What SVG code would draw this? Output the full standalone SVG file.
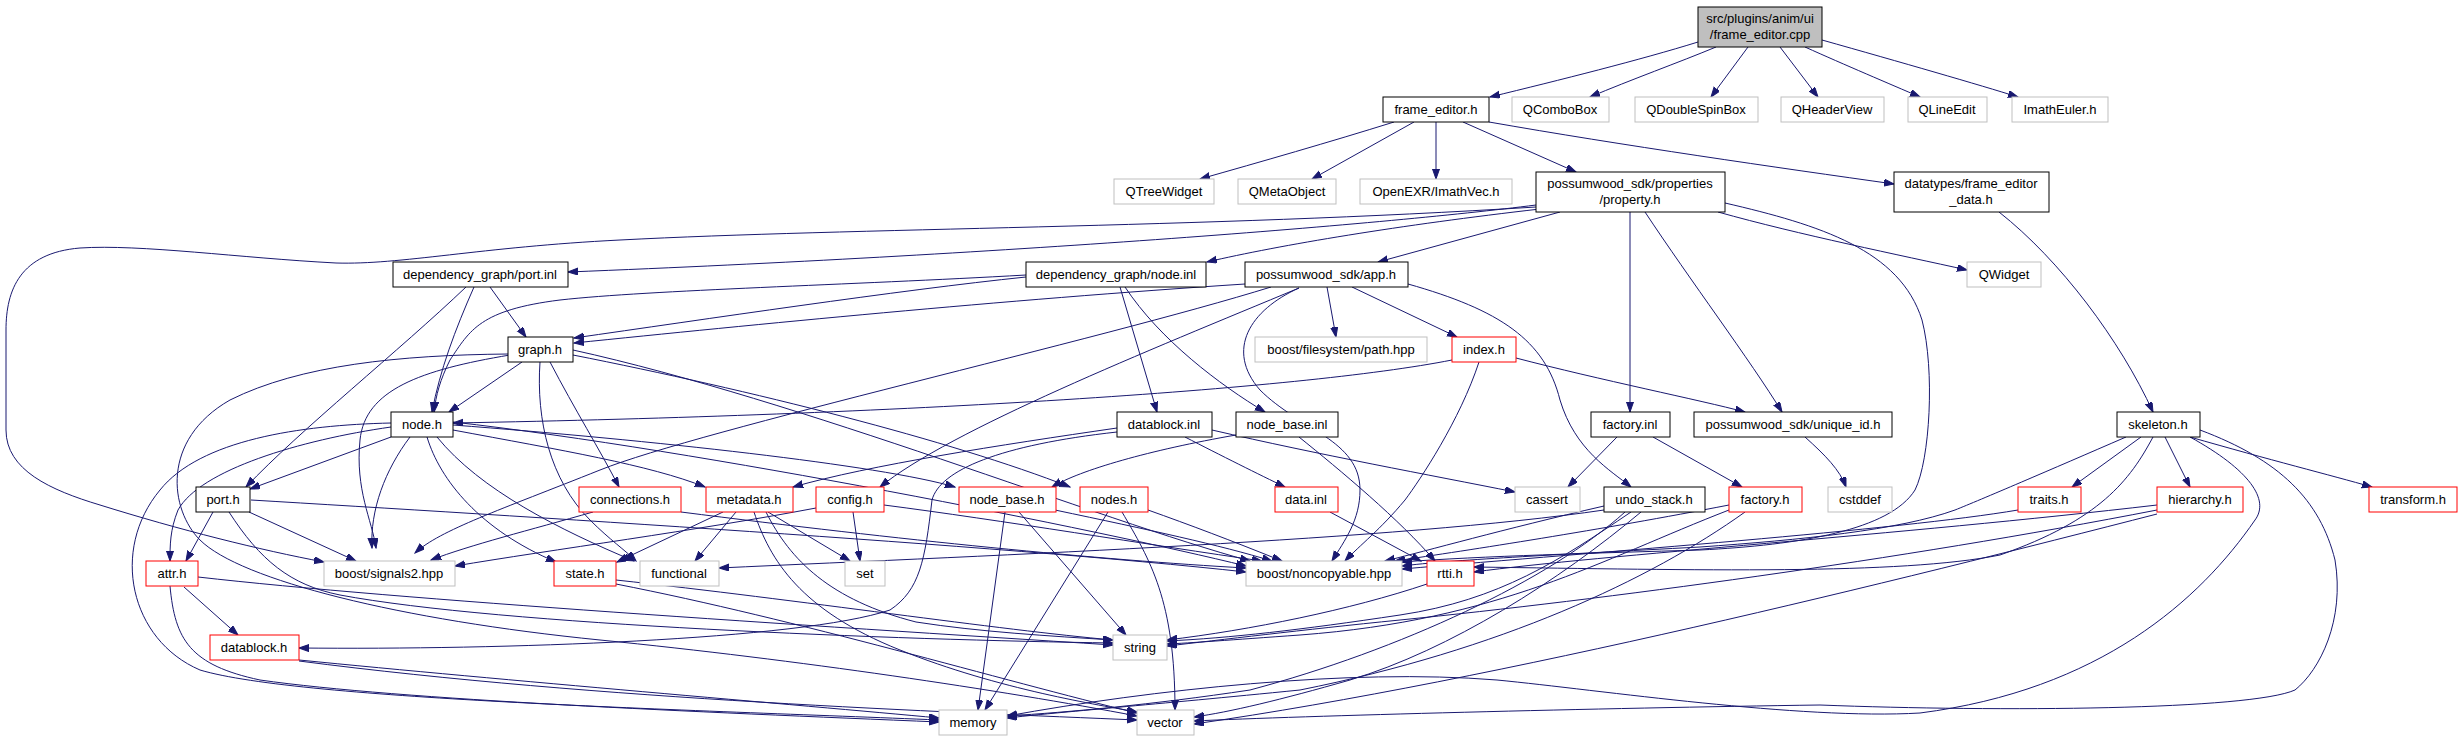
<svg xmlns="http://www.w3.org/2000/svg" width="2463" height="741" viewBox="0 0 2463 741">
<style>
rect{fill:#fff;stroke:#000;stroke-width:1}
.g rect{stroke:#bfbfbf}
.r rect{stroke:#ff0000}
.root rect{fill:#bfbfbf}
text{font-family:"Liberation Sans",Arial,Helvetica,sans-serif;font-size:13px;fill:#000;text-anchor:middle}
#edges path{fill:none;stroke:#191970;stroke-width:1;marker-end:url(#ah)}
</style>
<defs>
<marker id="ah" markerWidth="11" markerHeight="8" refX="10" refY="3.5" orient="auto" markerUnits="userSpaceOnUse">
<path d="M0,0 L10,3.5 L0,7 z" fill="#191970" stroke="#191970"/>
</marker>
</defs>
<rect x="0" y="0" width="2463" height="741" style="fill:#fff;stroke:none"/>
<g id="edges">
<path d="M1698,42 C1640,60 1560,80 1490,97"/>
<path d="M1716,47 C1680,62 1630,80 1590,97"/>
<path d="M1748,47 L1711,97"/>
<path d="M1780,47 L1818,97"/>
<path d="M1805,47 C1845,65 1890,84 1920,97"/>
<path d="M1822,40 C1900,62 1980,85 2018,97"/>
<path d="M1394,122 C1330,142 1260,162 1200,179"/>
<path d="M1414,122 L1312,179"/>
<path d="M1436,122 L1436,179"/>
<path d="M1463,122 L1576,172"/>
<path d="M1489,122 C1620,145 1780,168 1894,184"/>
<path d="M1999,212 C2060,260 2120,340 2153,412"/>
<path d="M1536,205 C1380,225 1000,255 568,272"/>
<path d="M1540,209 C1400,225 1280,245 1207,262"/>
<path d="M1560,212 L1378,262"/>
<path d="M1630,212 L1630,412"/>
<path d="M1645,212 C1690,280 1750,360 1782,412"/>
<path d="M1718,212 C1800,235 1900,255 1967,270"/>
<path d="M1725,203 C1820,225 1900,250 1922,320 C1935,370 1930,460 1915,490 C1890,530 1800,545 1700,550 C1600,553 1480,556 1402,562"/>
<path d="M1536,207 C1200,228 850,228 620,240 C480,247 400,265 336,263 C240,258 140,244 80,248 C20,253 6,290 6,330 L6,430 C6,470 50,490 100,505 C180,530 260,550 324,562"/>
<path d="M1026,277 C900,290 700,320 574,338"/>
<path d="M1026,275 C850,285 650,290 560,300 C480,310 470,330 450,360 C440,380 436,395 434,412"/>
<path d="M1120,287 L1157,412"/>
<path d="M1125,287 C1160,340 1220,385 1265,412"/>
<path d="M490,287 L526,337"/>
<path d="M474,287 C455,330 440,370 432,412"/>
<path d="M466,287 C400,350 300,430 246,487"/>
<path d="M1245,284 C1000,300 750,325 574,343"/>
<path d="M1271,287 C1100,340 700,430 600,470 C500,510 440,530 415,553"/>
<path d="M1327,287 L1336,337"/>
<path d="M1352,287 L1457,337"/>
<path d="M1408,284 C1500,310 1545,340 1560,400 C1575,450 1610,470 1631,487"/>
<path d="M1299,288 C1150,350 950,430 880,487"/>
<path d="M1299,288 C1250,310 1225,350 1260,390 C1300,430 1360,440 1360,490 C1360,520 1345,540 1332,561"/>
<path d="M522,362 L449,412"/>
<path d="M550,362 C575,410 600,450 619,487"/>
<path d="M510,355 C420,370 365,390 360,440 C355,490 372,520 376,548"/>
<path d="M573,350 C800,400 1100,520 1250,561"/>
<path d="M540,362 C536,420 550,480 590,520 C610,540 625,550 636,561"/>
<path d="M573,355 C750,390 950,440 1070,487"/>
<path d="M508,354 C400,355 300,365 230,400 C160,440 170,510 200,540 C240,580 400,620 600,640 C800,660 1000,690 1137,716"/>
<path d="M391,423 C300,425 200,440 160,490 C110,550 130,640 200,670 C300,700 700,710 939,720"/>
<path d="M391,427 C300,440 200,470 178,510 C170,530 170,545 170,561"/>
<path d="M391,437 L250,489"/>
<path d="M410,437 C385,470 370,510 372,548"/>
<path d="M427,437 C440,480 480,530 556,562"/>
<path d="M437,437 C480,490 560,530 634,561"/>
<path d="M453,430 C560,450 650,465 705,487"/>
<path d="M453,425 C650,440 880,465 955,487"/>
<path d="M453,422 C700,450 1100,530 1246,566"/>
<path d="M213,512 L186,561"/>
<path d="M249,512 L356,561"/>
<path d="M251,500 C500,515 1000,545 1246,572"/>
<path d="M229,512 C260,560 290,585 340,595 C500,625 900,640 1113,643"/>
<path d="M184,587 L238,635"/>
<path d="M198,577 C400,600 800,625 1113,645"/>
<path d="M170,586 C175,640 190,665 260,680 C400,700 700,712 939,722"/>
<path d="M299,660 C500,680 800,705 939,718"/>
<path d="M299,661 C600,700 950,712 1137,720"/>
<path d="M723,512 L617,562"/>
<path d="M736,512 L695,561"/>
<path d="M768,512 L850,561"/>
<path d="M766,512 C790,560 830,600 916,622 C980,632 1050,636 1113,640"/>
<path d="M754,512 C770,560 800,610 900,650 C1000,690 1100,705 1137,712"/>
<path d="M853,512 L860,561"/>
<path d="M816,508 C700,530 550,550 455,566"/>
<path d="M884,505 C1000,520 1150,545 1262,561"/>
<path d="M593,512 C530,530 470,545 431,560"/>
<path d="M681,512 C900,540 1100,560 1246,568"/>
<path d="M616,580 C800,600 1000,630 1113,640"/>
<path d="M616,584 C800,620 1000,680 1137,713"/>
<path d="M1005,512 L978,710"/>
<path d="M1019,512 L1126,635"/>
<path d="M1055,510 C1150,530 1220,545 1272,561"/>
<path d="M1108,512 L985,710"/>
<path d="M1122,512 C1150,560 1175,600 1175,710"/>
<path d="M1148,510 C1190,525 1230,540 1282,561"/>
<path d="M1236,435 C1150,450 1080,470 1052,487"/>
<path d="M1299,437 C1340,470 1400,520 1435,561"/>
<path d="M1117,428 C1000,445 870,465 793,487"/>
<path d="M1117,432 C1000,445 940,470 932,500 C925,560 920,590 890,610 C800,640 500,650 299,648"/>
<path d="M1185,437 C1220,455 1260,475 1285,487"/>
<path d="M1212,430 C1320,455 1430,475 1515,492"/>
<path d="M1330,512 L1421,561"/>
<path d="M1452,360 C1300,390 900,415 453,423"/>
<path d="M1516,358 C1600,380 1700,400 1745,412"/>
<path d="M1479,362 C1460,420 1420,480 1405,500 C1380,530 1360,545 1345,561"/>
<path d="M1617,437 L1568,487"/>
<path d="M1653,437 L1742,487"/>
<path d="M1805,437 C1825,455 1840,470 1846,487"/>
<path d="M1604,506 C1500,530 1430,550 1385,561"/>
<path d="M1604,510 C1400,540 1000,555 719,568"/>
<path d="M1631,512 C1560,560 1500,600 1400,615 C1300,630 1230,638 1167,641"/>
<path d="M1641,512 C1560,580 1450,650 1350,680 C1280,700 1230,712 1194,717"/>
<path d="M1625,512 C1550,580 1400,650 1250,690 C1150,705 1070,712 1007,716"/>
<path d="M1729,505 C1600,530 1470,550 1395,561"/>
<path d="M1729,510 C1600,560 1500,620 1300,635 C1230,640 1190,643 1167,644"/>
<path d="M1745,512 C1650,580 1500,650 1300,690 C1150,705 1060,712 1007,718"/>
<path d="M2141,437 L2072,487"/>
<path d="M2165,437 L2190,487"/>
<path d="M2190,437 C2270,460 2330,475 2372,487"/>
<path d="M2126,437 C2050,470 1980,500 1955,510 C1900,530 1800,540 1700,547 C1550,555 1450,560 1402,566"/>
<path d="M2153,437 C2130,480 2100,520 2000,555 C1900,575 1700,570 1474,567"/>
<path d="M2190,437 C2250,470 2270,500 2255,520 C2200,600 2100,690 1920,713 C1800,720 1600,690 1497,680 C1350,668 1150,690 1007,716"/>
<path d="M2200,430 C2280,460 2320,500 2335,560 C2345,620 2320,670 2295,690 C2250,710 2000,712 1820,705 C1600,708 1300,716 1194,721"/>
<path d="M2018,510 C1900,530 1600,552 1402,569"/>
<path d="M2157,505 C1900,535 1600,555 1474,572"/>
<path d="M2157,510 C1900,560 1600,600 1400,620 C1300,630 1220,640 1167,646"/>
<path d="M2157,514 C1900,580 1500,680 1194,724"/>
<path d="M1427,584 C1350,610 1250,630 1167,640"/>
</g>
<g id="n_root" class="root"><rect x="1698" y="7" width="124" height="40"/><text x="1760" y="23">src/plugins/anim/ui</text><text x="1760" y="39">/frame_editor.cpp</text></g>
<g id="n_frame_editor_h"><rect x="1383" y="97" width="106" height="25"/><text x="1436" y="114">frame_editor.h</text></g>
<g id="n_QComboBox" class="g"><rect x="1512" y="97" width="97" height="25"/><text x="1560" y="114">QComboBox</text></g>
<g id="n_QDoubleSpinBox" class="g"><rect x="1635" y="97" width="123" height="25"/><text x="1696" y="114">QDoubleSpinBox</text></g>
<g id="n_QHeaderView" class="g"><rect x="1781" y="97" width="103" height="25"/><text x="1832" y="114">QHeaderView</text></g>
<g id="n_QLineEdit" class="g"><rect x="1908" y="97" width="79" height="25"/><text x="1947" y="114">QLineEdit</text></g>
<g id="n_ImathEuler" class="g"><rect x="2012" y="97" width="96" height="25"/><text x="2060" y="114">ImathEuler.h</text></g>
<g id="n_QTreeWidget" class="g"><rect x="1114" y="179" width="100" height="25"/><text x="1164" y="196">QTreeWidget</text></g>
<g id="n_QMetaObject" class="g"><rect x="1238" y="179" width="98" height="25"/><text x="1287" y="196">QMetaObject</text></g>
<g id="n_ImathVec" class="g"><rect x="1360" y="179" width="152" height="25"/><text x="1436" y="196">OpenEXR/ImathVec.h</text></g>
<g id="n_property"><rect x="1536" y="172" width="189" height="40"/><text x="1630" y="188">possumwood_sdk/properties</text><text x="1630" y="204">/property.h</text></g>
<g id="n_frame_editor_data"><rect x="1894" y="172" width="155" height="40"/><text x="1971" y="188">datatypes/frame_editor</text><text x="1971" y="204">_data.h</text></g>
<g id="n_QWidget" class="g"><rect x="1967" y="262" width="74" height="25"/><text x="2004" y="279">QWidget</text></g>
<g id="n_port_inl"><rect x="393" y="262" width="175" height="25"/><text x="480" y="279">dependency_graph/port.inl</text></g>
<g id="n_node_inl"><rect x="1026" y="262" width="180" height="25"/><text x="1116" y="279">dependency_graph/node.inl</text></g>
<g id="n_app_h"><rect x="1245" y="262" width="163" height="25"/><text x="1326" y="279">possumwood_sdk/app.h</text></g>
<g id="n_graph_h"><rect x="508" y="337" width="65" height="25"/><text x="540" y="354">graph.h</text></g>
<g id="n_path_hpp" class="g"><rect x="1255" y="337" width="172" height="25"/><text x="1341" y="354">boost/filesystem/path.hpp</text></g>
<g id="n_index_h" class="r"><rect x="1452" y="337" width="64" height="25"/><text x="1484" y="354">index.h</text></g>
<g id="n_node_h"><rect x="391" y="412" width="62" height="25"/><text x="422" y="429">node.h</text></g>
<g id="n_datablock_inl"><rect x="1117" y="412" width="95" height="25"/><text x="1164" y="429">datablock.inl</text></g>
<g id="n_node_base_inl"><rect x="1236" y="412" width="102" height="25"/><text x="1287" y="429">node_base.inl</text></g>
<g id="n_factory_inl"><rect x="1591" y="412" width="79" height="25"/><text x="1630" y="429">factory.inl</text></g>
<g id="n_unique_id"><rect x="1694" y="412" width="198" height="25"/><text x="1793" y="429">possumwood_sdk/unique_id.h</text></g>
<g id="n_skeleton"><rect x="2117" y="412" width="83" height="25"/><text x="2158" y="429">skeleton.h</text></g>
<g id="n_port_h"><rect x="196" y="487" width="54" height="25"/><text x="223" y="504">port.h</text></g>
<g id="n_connections" class="r"><rect x="579" y="487" width="102" height="25"/><text x="630" y="504">connections.h</text></g>
<g id="n_metadata" class="r"><rect x="706" y="487" width="87" height="25"/><text x="749" y="504">metadata.h</text></g>
<g id="n_config" class="r"><rect x="816" y="487" width="68" height="25"/><text x="850" y="504">config.h</text></g>
<g id="n_node_base_h" class="r"><rect x="959" y="487" width="97" height="25"/><text x="1007" y="504">node_base.h</text></g>
<g id="n_nodes_h" class="r"><rect x="1080" y="487" width="68" height="25"/><text x="1114" y="504">nodes.h</text></g>
<g id="n_data_inl" class="r"><rect x="1275" y="487" width="63" height="25"/><text x="1306" y="504">data.inl</text></g>
<g id="n_cassert" class="g"><rect x="1515" y="487" width="65" height="25"/><text x="1547" y="504">cassert</text></g>
<g id="n_undo_stack"><rect x="1604" y="487" width="101" height="25"/><text x="1654" y="504">undo_stack.h</text></g>
<g id="n_factory_h" class="r"><rect x="1729" y="487" width="73" height="25"/><text x="1765" y="504">factory.h</text></g>
<g id="n_cstddef" class="g"><rect x="1828" y="487" width="64" height="25"/><text x="1860" y="504">cstddef</text></g>
<g id="n_traits" class="r"><rect x="2018" y="487" width="63" height="25"/><text x="2049" y="504">traits.h</text></g>
<g id="n_hierarchy" class="r"><rect x="2157" y="487" width="86" height="25"/><text x="2200" y="504">hierarchy.h</text></g>
<g id="n_transform" class="r"><rect x="2369" y="487" width="88" height="25"/><text x="2413" y="504">transform.h</text></g>
<g id="n_attr" class="r"><rect x="146" y="561" width="52" height="25"/><text x="172" y="578">attr.h</text></g>
<g id="n_signals2" class="g"><rect x="324" y="561" width="131" height="25"/><text x="389" y="578">boost/signals2.hpp</text></g>
<g id="n_state" class="r"><rect x="554" y="561" width="62" height="25"/><text x="585" y="578">state.h</text></g>
<g id="n_functional" class="g"><rect x="640" y="561" width="79" height="25"/><text x="679" y="578">functional</text></g>
<g id="n_set" class="g"><rect x="845" y="561" width="40" height="25"/><text x="865" y="578">set</text></g>
<g id="n_noncopyable" class="g"><rect x="1246" y="561" width="156" height="25"/><text x="1324" y="578">boost/noncopyable.hpp</text></g>
<g id="n_rtti" class="r"><rect x="1427" y="561" width="47" height="25"/><text x="1450" y="578">rtti.h</text></g>
<g id="n_datablock_h" class="r"><rect x="210" y="635" width="89" height="25"/><text x="254" y="652">datablock.h</text></g>
<g id="n_string" class="g"><rect x="1113" y="635" width="54" height="25"/><text x="1140" y="652">string</text></g>
<g id="n_memory" class="g"><rect x="939" y="710" width="68" height="25"/><text x="973" y="727">memory</text></g>
<g id="n_vector" class="g"><rect x="1137" y="710" width="57" height="25"/><text x="1165" y="727">vector</text></g>
</svg>
